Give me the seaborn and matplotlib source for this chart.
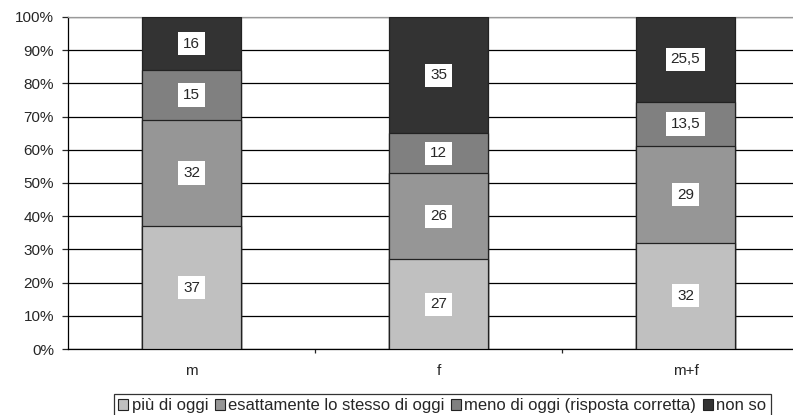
import numpy as np
import pandas as pd
import matplotlib
matplotlib.use("Agg")
import matplotlib.pyplot as plt
import seaborn as sns
from matplotlib.patches import Patch

sns.set_style("white")
plt.rcParams['font.family'] = ['Liberation Sans', 'DejaVu Sans']

# data
groups = ['m', 'f', 'm+f']
answers = ['più di oggi', 'esattamente lo stesso di oggi',
           'meno di oggi (risposta corretta)', 'non so']
piu = [37, 27, 32]
stesso = [32, 26, 29]
meno = [15, 12, 13.5]
nonso = [16, 35, 25.5]
colors = ['#c0c0c0', '#969696', '#808080', '#333333']

series = [piu, stesso, meno, nonso]
cum = np.cumsum(np.array(series, dtype=float), axis=0)

fig = plt.figure(figsize=(7.93, 4.15), dpi=100)
ax = fig.add_axes([68 / 793, 66 / 415, 741 / 793, 332 / 415])

# draw stacked bars: tallest cumulative first, lower ones on top
for i in range(len(series) - 1, -1, -1):
    df = pd.DataFrame({'group': groups, 'value': cum[i]})
    sns.barplot(data=df, x='group', y='value', color=colors[i], width=0.4,
                edgecolor='#222222', linewidth=0.9, saturation=1, ax=ax, zorder=3)

# value labels
for i, vals in enumerate(series):
    for j, v in enumerate(vals):
        mid = cum[i][j] - v / 2
        lab = f"{v:g}".replace('.', ',')
        ax.text(j, mid, lab, ha='center', va='center', fontsize=11, zorder=5,
                bbox=dict(boxstyle='square,pad=0.3', fc='white', ec='none'))

ax.set_xlim(-0.5, 2.5)
ax.set_ylim(0, 100)
ax.set_yticks(np.arange(0, 101, 10))
ax.set_yticklabels([f"{t}%" for t in range(0, 101, 10)], fontsize=11)
ax.yaxis.grid(True, color='black', linewidth=0.9, zorder=0)
ax.set_axisbelow(True)
ax.tick_params(axis='y', direction='out', length=4, width=0.9, pad=6, left=True)
ax.set_xticks([0, 1, 2])
ax.set_xticklabels(groups, fontsize=11)
ax.set_xticks([0.5, 1.5], minor=True)
ax.tick_params(axis='x', which='major', length=0, pad=11)
ax.tick_params(axis='x', which='minor', direction='out', length=3, width=0.9, bottom=True)
ax.set_xlabel('')
ax.set_ylabel('')

for s in ['left', 'bottom']:
    ax.spines[s].set_color('black')
    ax.spines[s].set_linewidth(0.9)
ax.spines['top'].set_color('#999999')
ax.spines['top'].set_linewidth(0.9)
ax.spines['right'].set_visible(False)

handles = [Patch(facecolor=c, edgecolor='#222222', linewidth=0.8) for c in colors]
leg = fig.legend(handles, answers, loc='upper left', bbox_to_anchor=(114 / 793, 21 / 415),
                 ncol=4, fontsize=12, frameon=True, fancybox=False, handlelength=0.6,
                 handleheight=0.6, handletextpad=0.2, columnspacing=0.4,
                 borderpad=0.25, borderaxespad=0)
leg.get_frame().set_edgecolor('black')
leg.get_frame().set_linewidth(0.9)

fig.savefig('out.png', dpi=100)
